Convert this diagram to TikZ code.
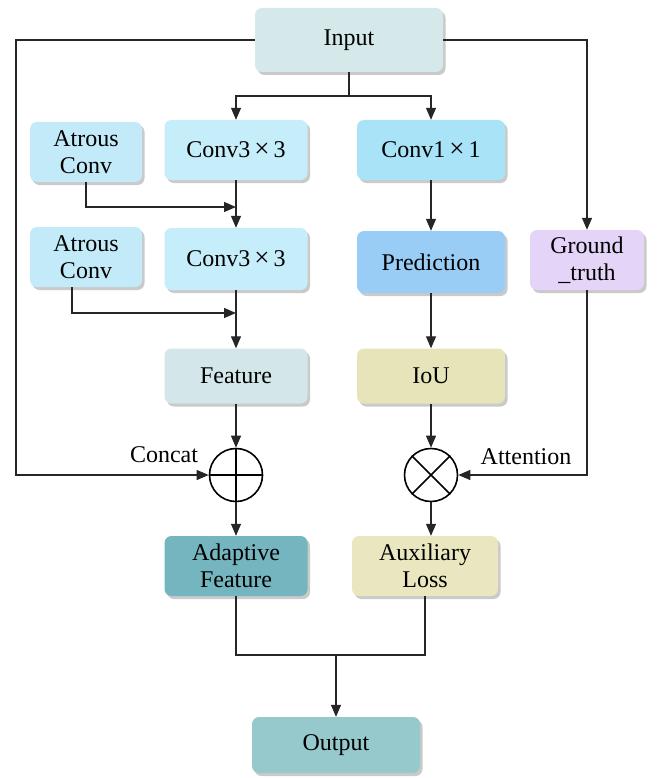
\documentclass[tikz,border=0pt]{standalone}
\usepackage{fontspec}
\setmainfont{Liberation Serif}
\usetikzlibrary{arrows.meta,shadows,calc}
\definecolor{cInput}{HTML}{D6E9EA}
\definecolor{cAtrous}{HTML}{C3EAF8}
\definecolor{cConvA}{HTML}{C6EDFA}
\definecolor{cConvB}{HTML}{A9E3F8}
\definecolor{cPred}{HTML}{9ACDF6}
\definecolor{cGT}{HTML}{E4D4F8}
\definecolor{cFeat}{HTML}{D3E6EA}
\definecolor{cIoU}{HTML}{E8E4BA}
\definecolor{cAdapt}{HTML}{74B5BF}
\definecolor{cAux}{HTML}{E9E6C0}
\definecolor{cOut}{HTML}{95C9CB}
\newcommand{\bigx}{\,{\fontsize{27}{27}\selectfont ×}\,}
\tikzset{
  blk/.style={rectangle, rounded corners=7pt, draw=none, align=center,
    font=\fontsize{24}{27}\selectfont, inner sep=0pt,
    drop shadow={shadow xshift=2.5pt, shadow yshift=-3pt, opacity=0.35, fill=black!60}},
  op/.style={circle, draw, line width=1.6pt, minimum size=53pt, inner sep=0pt},
  conn/.style={line width=1.2pt, draw=black!85},
  arr/.style={conn, -{Triangle[length=12pt,width=10pt]}},
  lbl/.style={font=\fontsize{24}{27}\selectfont}
}
\begin{document}
\begin{tikzpicture}[x=1pt,y=-1pt]
\useasboundingbox (0,0) rectangle (660,778);

% blocks
\node[blk, fill=cInput, minimum width=188pt, minimum height=64pt] (in) at (349,40) {Input};
\node[blk, fill=cAtrous, minimum width=112pt, minimum height=60pt] (a1) at (86,152) {Atrous\\Conv};
\node[blk, fill=cConvA, minimum width=143pt, minimum height=60pt] (c1) at (236,150) {Conv3\bigx3};
\node[blk, fill=cConvB, minimum width=148pt, minimum height=60pt] (k1) at (431,150) {Conv1\bigx1};
\node[blk, fill=cAtrous, minimum width=112pt, minimum height=60pt] (a2) at (86,257) {Atrous\\Conv};
\node[blk, fill=cConvA, minimum width=143pt, minimum height=62pt] (c2) at (236,259) {Conv3\bigx3};
\node[blk, fill=cPred, minimum width=148pt, minimum height=62pt] (pr) at (431,262) {Prediction};
\node[blk, fill=cGT, minimum width=114pt, minimum height=60pt] (gt) at (587,260) {Ground\\\_truth};
\node[blk, fill=cFeat, minimum width=143pt, minimum height=55pt] (ft) at (236,376) {Feature};
\node[blk, fill=cIoU, minimum width=148pt, minimum height=55pt] (iou) at (431,376) {IoU};
\node[blk, fill=cAdapt, minimum width=143pt, minimum height=60pt] (af) at (236,566) {Adaptive\\Feature};
\node[blk, fill=cAux, minimum width=146pt, minimum height=60pt] (al) at (425,566) {Auxiliary\\Loss};
\node[blk, fill=cOut, minimum width=168pt, minimum height=56pt] (out) at (336,745) {Output};

% operators
\node[op] (plus) at (236,475) {};
\draw[line width=1.6pt] (plus.north) -- (plus.south) (plus.west) -- (plus.east);
\node[op] (times) at (431,475) {};
\draw[line width=1.6pt] (times.north west) -- (times.south east) (times.north east) -- (times.south west);

\node[lbl] (concat) at (164,455) {Concat};
\node[lbl] (atten) at (526,457) {Attention};

% connectors
\draw[arr] (in.west) -- (16,40) -- (16,475) -- (plus.west);
\draw[arr] (in.east) -| (gt.north);
\coordinate (split) at (349,96);
\draw[conn] (in.south) -- (split);
\draw[arr] (split) -| (c1.north);
\draw[arr] (split) -| (k1.north);
\draw[arr] (a1.south) |- (236,207);
\draw[arr] (c1.south) -- (c2.north);
\draw[arr] ([xshift=-14pt]a2.south) |- (236,313);
\draw[arr] (c2.south) -- (ft.north);
\draw[arr] (k1.south) -- (pr.north);
\draw[arr] (pr.south) -- (iou.north);
\draw[arr] (ft.south) -- (plus.north);
\draw[arr] (iou.south) -- (times.north);
\draw[arr] (gt.south) |- (times.east);
\draw[arr] (plus.south) -- (af.north);
\draw[arr] (times.south) -- (times.south |- al.north);
\coordinate (merge) at (336,655);
\draw[conn] (af.south) |- (merge) -| (al.south);
\draw[arr] (merge) -- (out.north);
\end{tikzpicture}
\end{document}
